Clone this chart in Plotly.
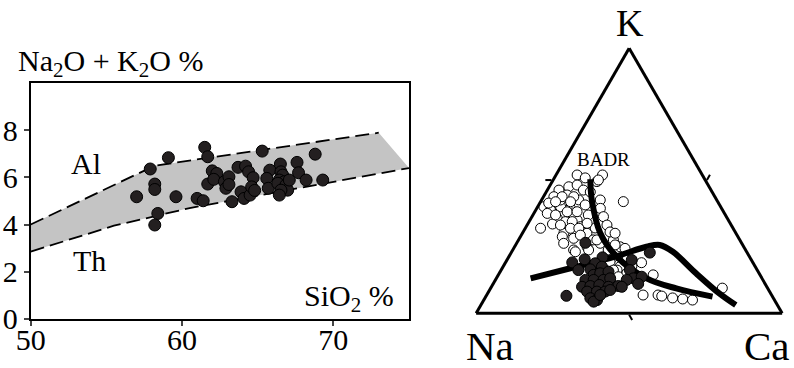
import plotly.graph_objects as go

FONT = "Liberation Serif, Times New Roman, serif"

# ---- Left panel: total alkali vs silica ----
sio2 = [57.0, 57.9, 58.2, 58.2, 58.4, 58.2, 59.1, 59.6, 61.0, 61.4,
        61.5, 61.7, 62.0, 62.3, 61.7, 62.1, 62.8, 63.1, 62.9, 63.1,
        63.3, 63.7, 64.2, 64.4, 64.7, 63.9, 64.1, 64.5, 64.6, 64.8,
        65.3, 65.8, 65.6, 65.7, 66.5, 66.54, 66.65, 66.43, 66.76, 66.33,
        66.87, 66.98, 66.54, 66.43, 67.09, 67.6, 67.7, 68.2, 68.8, 69.3]
alkali = [5.18, 6.36, 5.72, 5.49, 4.47, 3.98, 6.84, 5.18, 5.11, 5.01,
          7.28, 6.88, 6.28, 6.17, 5.72, 5.92, 5.82, 6.03, 5.54, 5.70,
          4.97, 6.43, 6.48, 6.24, 5.99, 5.39, 5.11, 5.25, 5.60, 5.45,
          7.12, 6.31, 5.96, 5.54, 6.57, 6.24, 6.10, 5.89, 5.82, 5.75,
          5.68, 5.46, 5.46, 5.25, 5.89, 6.64, 6.20, 5.89, 6.99, 5.89]

# field boundaries (alkaline / tholeiitic band)
upper_x = [50, 58.2, 73]
upper_y = [4.0, 6.5, 7.9]
lower_x = [50, 55.5, 60.5, 75]
lower_y = [2.85, 3.95, 4.7, 6.4]

# ---- Right panel: K - Na - Ca ternary ----
open_K = [52.2, 51.1, 52.2, 49.7, 47.8, 48.4, 46.5, 46.5, 44.0, 44.6,
          42.8, 42.8, 42.1, 40.2, 39.0, 40.2, 39.6, 40.9, 39.6, 32.1,
          37.7, 35.8, 34.6, 35.2, 32.7, 37.1, 36.5, 33.3, 33.7, 30.2,
          28.3, 30.2, 32.2, 23.9, 25.1, 26.4, 27.7, 25.1, 24.5, 21.4,
          20.1, 17.6, 15.1, 23.9, 19.1, 14.5, 6.9, 6.9, 6.5, 5.8,
          5.4, 5.0, 9.5, 30.7, 27.7, 42.8, 37.8, 41.6, 16.3, 12.6,
          17.8, 19.4, 45.8, 17.1,
          50.3, 44.0, 44.0, 42.1, 42.1, 38.3, 38.3, 37.1, 34.6, 34.0,
          33.3, 32.1, 32.1, 30.2, 28.9, 29.5, 26.4, 27.7, 25.8, 19.5,
          16.3, 13.8, 23.2, 23.9]
open_Na = [40.9, 38.8, 32.6, 35.7, 45.9, 42.8, 41.7, 49.7, 52.6, 47.9,
           45.1, 38.1, 30.8, 57.7, 56.2, 52.3, 49.4, 43.9, 39.6, 62.9,
           57.9, 55.6, 53.5, 49.4, 49.6, 44.8, 40.2, 40.6, 58.2, 56.3,
           54.0, 48.7, 45.0, 56.2, 51.2, 46.2, 41.3, 40.4, 39.1, 44.5,
           40.7, 44.2, 43.2, 44.9, 36.4, 34.9, 42.0, 37.1, 36.1, 32.9,
           29.8, 26.8, 14.8, 40.9, 47.9, 51.1, 49.6, 55.5, 45.8, 49.3,
           40.2, 48.2, 39.8, 51.6,
           34.9, 49.9, 46.1, 48.1, 53.0, 51.1, 47.8, 55.5, 51.3, 46.8,
           55.8, 53.2, 50.4, 39.5, 57.4, 51.2, 58.2, 46.7, 41.7, 46.5,
           47.0, 46.6, 55.9, 51.3]
open_Ca = [6.9, 10.1, 15.2, 14.6, 6.4, 8.8, 11.8, 3.8, 3.4, 7.4,
           12.1, 19.2, 27.0, 2.0, 4.8, 7.5, 11.0, 15.2, 20.8, 5.0,
           4.4, 8.6, 11.9, 15.4, 17.7, 18.1, 23.4, 26.1, 8.1, 13.6,
           17.7, 21.1, 22.8, 19.9, 23.7, 27.3, 31.0, 34.5, 36.4, 34.2,
           39.2, 38.2, 41.7, 31.2, 44.5, 50.6, 51.1, 56.0, 57.4, 61.3,
           64.8, 68.2, 75.7, 28.4, 24.4, 6.2, 12.5, 2.9, 37.9, 38.2,
           42.0, 32.5, 14.4, 31.4,
           14.8, 6.1, 9.9, 9.8, 4.9, 10.6, 13.8, 7.4, 14.1, 19.3,
           10.9, 14.8, 17.5, 30.3, 13.7, 19.3, 15.4, 25.6, 32.5, 34.0,
           36.7, 39.6, 20.8, 24.8]

fill_K = [26.6, 19.2, 20.4, 21.1, 18.9, 16.6, 17.6, 14.5, 15.1, 15.7,
          12.6, 12.6, 12.6, 13.2, 10.0, 10.3, 10.7, 10.0, 10.3, 8.2,
          8.2, 8.2, 5.7, 5.0, 4.4, 6.6, 22.9, 20.1, 16.3, 13.2,
          13.8, 11.1, 12.6, 10.0, 6.9, 8.8, 16.3]
fill_Na = [51.0, 59.0, 54.4, 48.1, 51.7, 54.4, 50.1, 54.4, 51.9, 48.9,
           58.0, 55.3, 52.1, 49.6, 60.4, 57.6, 54.4, 51.7, 48.4, 59.7,
           56.5, 53.8, 59.9, 58.0, 59.4, 67.2, 31.8, 39.1, 41.6, 42.0,
           39.0, 41.5, 44.5, 47.4, 56.0, 51.8, 58.4]
fill_Ca = [22.4, 21.8, 25.3, 30.7, 29.5, 29.0, 32.3, 31.1, 33.0, 35.4,
           29.4, 32.1, 35.3, 37.2, 29.6, 32.2, 34.9, 38.2, 41.3, 32.2,
           35.4, 38.1, 34.5, 37.0, 36.2, 26.2, 45.3, 40.8, 42.1, 44.8,
           47.2, 47.4, 42.9, 42.6, 37.1, 39.4, 25.2]

# BADR trend divider
badr_K = [50.6, 42.8, 30.3, 21.4, 13.2, 9.4, 6.3]
badr_Na = [37.4, 40.8, 44.3, 43.4, 37.7, 29.9, 19.6]
badr_Ca = [12.0, 16.4, 25.4, 35.2, 49.1, 60.7, 74.1]

# second trend curve
trend_K = [13.2, 17.0, 21.6, 25.1, 25.8, 23.2, 15.1, 7.5, 3.1]
trend_Na = [75.6, 60.7, 43.2, 31.8, 27.1, 24.1, 20.6, 16.8, 13.6]
trend_Ca = [11.2, 22.3, 35.2, 43.1, 47.1, 52.7, 64.3, 75.7, 83.3]

W, H = 794, 368

fig = go.Figure()

# shaded band between the two boundaries
band_x = upper_x + [lower_x[-1]] + lower_x[::-1]
band_y = upper_y + [lower_y[-1]] + lower_y[::-1]
fig.add_trace(go.Scatter(x=band_x, y=band_y, fill="toself", mode="none",
                         fillcolor="#c4c4c4", hoverinfo="skip", showlegend=False))
for xs, ys in ((upper_x, upper_y), (lower_x, lower_y)):
    fig.add_trace(go.Scatter(x=xs, y=ys, mode="lines", showlegend=False,
                             line=dict(color="black", width=1.8, dash="14px,6px")))

fig.add_trace(go.Scatter(x=sio2, y=alkali, mode="markers", showlegend=False,
                         marker=dict(size=12, color="#231f20",
                                     line=dict(color="black", width=1))))

# ternary traces
fig.add_trace(go.Scatterternary(a=open_K, b=open_Na, c=open_Ca, mode="markers",
                                showlegend=False,
                                marker=dict(size=10, color="white",
                                            line=dict(color="black", width=1))))
for ks, ns, cs in ((badr_K, badr_Na, badr_Ca), (trend_K, trend_Na, trend_Ca)):
    fig.add_trace(go.Scatterternary(a=ks, b=ns, c=cs, mode="lines", showlegend=False,
                                    line=dict(color="black", width=6, shape="spline")))
fig.add_trace(go.Scatterternary(a=fill_K, b=fill_Na, c=fill_Ca, mode="markers",
                                showlegend=False,
                                marker=dict(size=11, color="#231f20",
                                            line=dict(color="black", width=1))))

tern_axis = dict(showgrid=False, showticklabels=False, linecolor="black",
                 linewidth=3, ticks="outside", tickmode="array", tickvals=[50],
                 ticklen=6, tickwidth=2, tickcolor="black", min=0, title=dict(text=""))

tick_font = dict(size=30, family=FONT, color="black")

fig.update_layout(
    width=W, height=H,
    margin=dict(l=0, r=0, t=0, b=0, pad=0, autoexpand=False),
    paper_bgcolor="white", plot_bgcolor="white",
    font=dict(family=FONT, color="black"),
    xaxis=dict(domain=[30.7 / W, 409 / W], range=[50, 75], showgrid=False,
               zeroline=False, showline=True, linecolor="black", linewidth=2,
               mirror=True, ticks="outside", ticklen=5, tickwidth=2,
               tickvals=[50, 60, 70], tickfont=tick_font, automargin=False,
               ticklabelstandoff=-12),
    yaxis=dict(domain=[1 - 318.7 / H, 1 - 83.3 / H], range=[0, 10], showgrid=False,
               zeroline=False, showline=True, linecolor="black", linewidth=2,
               mirror=True, ticks="outside", ticklen=5, tickwidth=2,
               tickvals=[0, 2, 4, 6, 8], tickfont=tick_font, automargin=False),
    ternary=dict(domain=dict(x=[475 / W, 783.3 / W], y=[1 - 313.3 / H, 1 - 48.3 / H]),
                 sum=100, bgcolor="white",
                 aaxis=tern_axis, baxis=tern_axis, caxis=tern_axis),
)

def label(text, x, y, size, xanchor="center"):
    fig.add_annotation(text=text, x=x / W, y=1 - y / H, xref="paper", yref="paper",
                       showarrow=False, xanchor=xanchor, yanchor="middle",
                       font=dict(size=size, family=FONT, color="black"))

label("Na<sub>2</sub>O + K<sub>2</sub>O %", 16, 63, 30, "left")
label("Al", 86, 163, 30)
label("Th", 89, 260, 30)
label("SiO<sub>2</sub> %", 349, 298, 30)
label("K", 630, 23, 38)
label("Na", 490, 346, 41)
label("Ca", 767, 346, 41)
label("BADR", 603, 160, 19)

fig.write_html("out.html")
